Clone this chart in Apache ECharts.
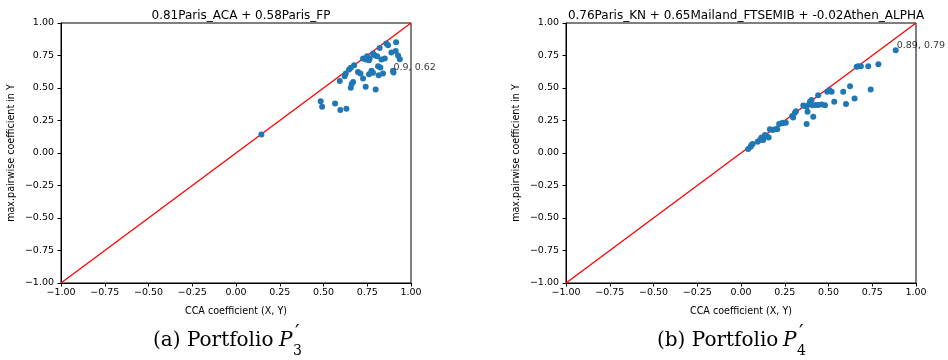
<!DOCTYPE html>
<html>
<head>
<meta charset="utf-8">
<script src="https://cdn.jsdelivr.net/npm/echarts@6/dist/echarts.min.js"></script>
<style>html,body{margin:0;padding:0;background:#fff}#c{width:948px;height:360px}</style>
</head>
<body>
<div id="c"></div>
<script>
// ---- data ----
const titleA = '0.81Paris_ACA + 0.58Paris_FP';
const titleB = '0.76Paris_KN + 0.65Mailand_FTSEMIB + -0.02Athen_ALPHA';
const ticks = [-1.00, -0.75, -0.50, -0.25, 0.00, 0.25, 0.50, 0.75, 1.00];
const diagX = [-1, 1];
const diagY = [-1, 1];
const p3X = [0.859,0.869,0.915,0.821,0.783,0.793,0.806,0.749,0.726,0.764,0.741,0.760,0.888,0.913,0.926,0.936,0.831,0.850,0.675,0.656,0.646,0.812,0.825,0.697,0.711,0.726,0.627,0.621,0.593,0.774,0.783,0.760,0.815,0.840,0.900,0.897,0.669,0.661,0.656,0.741,0.798,0.484,0.492,0.566,0.596,0.631,0.145];
const p3Y = [0.842,0.829,0.852,0.808,0.765,0.752,0.744,0.744,0.727,0.727,0.719,0.714,0.773,0.785,0.750,0.721,0.719,0.727,0.675,0.655,0.642,0.668,0.657,0.624,0.611,0.573,0.611,0.591,0.553,0.632,0.617,0.606,0.599,0.611,0.620,0.632,0.547,0.530,0.501,0.509,0.489,0.399,0.356,0.381,0.330,0.340,0.143];
const p4X = [0.884,0.785,0.727,0.685,0.670,0.661,0.623,0.584,0.741,0.649,0.600,0.533,0.518,0.493,0.505,0.480,0.461,0.441,0.428,0.441,0.403,0.394,0.380,0.413,0.375,0.365,0.375,0.390,0.409,0.356,0.308,0.314,0.298,0.293,0.256,0.241,0.232,0.218,0.194,0.207,0.180,0.165,0.146,0.137,0.158,0.117,0.127,0.095,0.108,0.060,0.055,0.041,0.066];
const p4Y = [0.790,0.683,0.668,0.668,0.668,0.663,0.514,0.471,0.489,0.420,0.376,0.394,0.471,0.471,0.484,0.368,0.373,0.370,0.370,0.445,0.407,0.394,0.317,0.279,0.223,0.361,0.356,0.376,0.368,0.366,0.310,0.322,0.274,0.284,0.233,0.233,0.228,0.223,0.182,0.182,0.177,0.182,0.130,0.138,0.120,0.120,0.100,0.087,0.100,0.061,0.049,0.031,0.069];
const noteA = [0.9, 0.62];
const noteB = [0.89, 0.79];

const pairs = (xs, ys) => xs.map((x, i) => [x, ys[i]]);
const fmt = v => v.toFixed(2).replace('-', '\u2212');
const sans = 'DejaVu Sans';

function xAx(gi) {
  return {
    gridIndex: gi, type: 'value', min: -1, max: 1, interval: 0.25,
    name: 'CCA coefficient (X, Y)', nameLocation: 'middle', nameGap: 23,
    nameTextStyle: {fontFamily: sans, fontSize: 9.6, color: '#000'},
    axisLine: {show: true, onZero: false, lineStyle: {color: '#000', width: 1}},
    axisTick: {show: true, inside: false, length: 3.5, lineStyle: {color: '#000'}},
    axisLabel: {formatter: fmt, fontFamily: sans, fontSize: 9.5, color: '#000', margin: 5},
    splitLine: {show: false}
  };
}
function yAx(gi) {
  return {
    gridIndex: gi, type: 'value', min: -1, max: 1, interval: 0.25,
    name: 'max.pairwise coefficient in Y', nameLocation: 'middle', nameGap: 45,
    nameTextStyle: {fontFamily: sans, fontSize: 9.6, color: '#000'},
    axisLine: {show: true, onZero: false, lineStyle: {color: '#000', width: 1}},
    axisTick: {show: true, inside: false, length: 3.5, lineStyle: {color: '#000'}},
    axisLabel: {formatter: fmt, fontFamily: sans, fontSize: 9.5, color: '#000', margin: 7},
    splitLine: {show: false}
  };
}
function diag(gi) {
  return {
    type: 'line', xAxisIndex: gi, yAxisIndex: gi, data: pairs(diagX, diagY),
    symbol: 'none', lineStyle: {color: '#ff0000', width: 1.3}, z: 2, silent: true
  };
}
function pts(gi, xs, ys) {
  return {
    type: 'scatter', xAxisIndex: gi, yAxisIndex: gi, data: pairs(xs, ys),
    symbolSize: 6, itemStyle: {color: '#1f77b4', opacity: 1}, z: 3
  };
}
function note(gi, n) {
  return {
    type: 'scatter', xAxisIndex: gi, yAxisIndex: gi, data: [n],
    symbolSize: 0, z: 4, silent: true,
    label: {show: true, position: [0, 0], align: 'left', verticalAlign: 'bottom',
      formatter: p => p.value[0] + ', ' + p.value[1],
      fontFamily: sans, fontSize: 9.5, color: '#000'}
  };
}

const serif = '"DejaVu Serif"';
function caption(x0, label, sub) {
  return [
    {type: 'text', x: x0, y: 341, style: {text: label, font: '20px ' + serif, fill: '#000', verticalAlign: 'middle'}},
    {type: 'text', x: x0 + 126, y: 341, style: {text: 'P', font: 'italic 20px ' + serif, fill: '#000', verticalAlign: 'middle'}},
    {type: 'text', x: x0 + 142, y: 334, style: {text: '\u2032', font: '20px ' + serif, fill: '#000', verticalAlign: 'middle'}},
    {type: 'text', x: x0 + 140, y: 351, style: {text: sub, font: '14px ' + serif, fill: '#000', verticalAlign: 'middle'}}
  ];
}

const chart = echarts.init(document.getElementById('c'), null, {renderer: 'canvas'});
chart.setOption({
  animation: false,
  backgroundColor: '#fff',
  title: [
    {text: titleA, left: 236, top: 5, textAlign: 'center',
      textStyle: {fontFamily: sans, fontSize: 12, fontWeight: 'normal', color: '#000'}},
    {text: titleB, left: 741, top: 5, textAlign: 'center',
      textStyle: {fontFamily: sans, fontSize: 12, fontWeight: 'normal', color: '#000'}}
  ],
  grid: [
    {left: 61, top: 23, width: 350, height: 260, show: true, borderColor: '#000', borderWidth: 1, backgroundColor: 'transparent'},
    {left: 566, top: 23, width: 350, height: 260, show: true, borderColor: '#000', borderWidth: 1, backgroundColor: 'transparent'}
  ],
  xAxis: [xAx(0), xAx(1)],
  yAxis: [yAx(0), yAx(1)],
  series: [
    diag(0), pts(0, p3X, p3Y), note(0, noteA),
    diag(1), pts(1, p4X, p4Y), note(1, noteB)
  ],
  graphic: caption(153, '(a) Portfolio', '3').concat(caption(657, '(b) Portfolio', '4'))
});
</script>
</body>
</html>
